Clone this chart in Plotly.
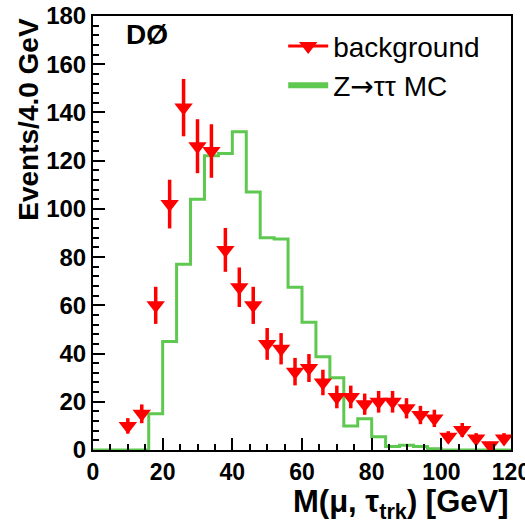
import plotly.graph_objects as go

# Z->tautau MC histogram: bin edges (GeV) and contents per 4 GeV bin
mc_edges = [0, 4, 8, 12, 16, 20, 24, 28, 32, 36, 40, 44, 48, 52, 56, 60, 64, 68, 72, 76,
            80, 84, 88, 92, 96, 100, 104, 108, 112, 116, 120]
mc_counts = [0, 0, 0, 0, 15, 45, 77, 104, 122, 123, 132, 107, 88, 87.5, 67.5, 53, 38.7, 30, 10, 13,
             5.5, 1.5, 2, 1.5, 0.5, 0, 0, 0, 0, 0]

# background points: bin centres, values, errors
bg_x = [10, 14, 18, 22, 26, 30, 34, 38, 42, 46, 50, 54, 58, 62, 66, 70, 74, 78, 82, 86,
        90, 94, 98, 102, 106, 110, 114, 118]
bg_y = [10, 15, 60, 102, 142, 126, 124, 83, 67.5, 60, 44, 42, 32.5, 34, 28, 22, 22, 19, 20, 20,
        17.3, 14.5, 13.1, 5.5, 8.3, 4.8, 2, 4.8]
bg_err = [3.2, 3.9, 7.7, 10.1, 11.9, 11.2, 11.1, 9.1, 8.2, 7.7, 6.6, 6.5, 5.7, 5.8, 5.3, 4.7, 4.7,
          4.4, 4.5, 4.5, 4.2, 3.8, 3.6, 2.3, 2.9, 2.2, 1.4, 2.2]

x_title = "<b>M(\u03bc, \u03c4<sub>trk</sub>) [GeV]</b>"
y_title = "<b>Events/4.0 GeV</b>"

RED = "rgb(255,0,0)"
GREEN = "rgb(95,200,80)"
FONT = "Liberation Sans, Arial, sans-serif"

fig = go.Figure()

# MC step histogram
fig.add_trace(go.Scatter(
    x=mc_edges, y=mc_counts + [mc_counts[-1]], mode="lines",
    line=dict(color=GREEN, width=3, shape="hv"), showlegend=False, hoverinfo="skip"))

# background points with vertical errors
fig.add_trace(go.Scatter(
    x=bg_x, y=bg_y, mode="markers",
    marker=dict(symbol="triangle-down", size=16, color=RED),
    error_y=dict(type="data", array=bg_err, color=RED, thickness=3.5, width=0),
    showlegend=False))

# legend entries
fig.add_trace(go.Scatter(
    x=[None], y=[None], mode="lines+markers", name="background",
    line=dict(color=RED, width=3),
    marker=dict(symbol="triangle-down", size=16, color=RED)))
fig.add_trace(go.Scatter(
    x=[None], y=[None], mode="lines",
    name="Z<span style=\"font-family:DejaVu Sans\">\u2192</span>\u03c4\u03c4 MC",
    line=dict(color=GREEN, width=6)))

fig.add_annotation(x=0.075, y=0.957, xref="paper", yref="paper", text="<b>DØ</b>",
                   showarrow=False, xanchor="left", yanchor="middle",
                   font=dict(family=FONT, size=28, color="black"))

# axis titles, end-aligned as in the original
fig.add_annotation(x=1.0, y=-0.074, xref="paper", yref="paper", text=x_title,
                   showarrow=False, xanchor="right", yanchor="top",
                   font=dict(family=FONT, size=31, color="black"))
fig.add_annotation(x=-0.155, y=1.0, xref="paper", yref="paper", text=y_title,
                   showarrow=False, xanchor="center", yanchor="top", textangle=-90,
                   font=dict(family=FONT, size=28, color="black"))

fig.update_layout(
    width=525, height=523,
    margin=dict(l=93, r=14, t=16, b=73, autoexpand=False),
    paper_bgcolor="white", plot_bgcolor="white",
    font=dict(family=FONT, color="black"),
    legend=dict(x=0.455, y=0.988, xanchor="left", yanchor="top",
                bgcolor="rgba(0,0,0,0)", font=dict(family=FONT, size=28, color="black"),
                itemwidth=40, tracegroupgap=0),
    xaxis=dict(
        range=[0, 120], tick0=0, dtick=20, ticks="inside", ticklen=12, tickwidth=2,
        tickcolor="black", showline=True, linecolor="black", linewidth=2, mirror=True,
        showgrid=False, zeroline=False, ticklabeloverflow="allow", automargin=False,
        tickfont=dict(family=FONT, size=23, color="black"),
        tickprefix="<b>", ticksuffix="</b>",
        minor=dict(dtick=5, ticks="inside", ticklen=6, tickwidth=2, tickcolor="black"),
    ),
    yaxis=dict(
        range=[0, 180], tick0=0, dtick=20, ticks="inside", ticklen=12, tickwidth=2,
        tickcolor="black", showline=True, linecolor="black", linewidth=2, mirror=True,
        showgrid=False, zeroline=False, ticklabeloverflow="allow", automargin=False,
        tickfont=dict(family=FONT, size=24, color="black"),
        tickprefix="<b>", ticksuffix="</b>",
        minor=dict(dtick=4, ticks="inside", ticklen=6, tickwidth=2, tickcolor="black"),
    ),
)

fig.write_html("out.html")
